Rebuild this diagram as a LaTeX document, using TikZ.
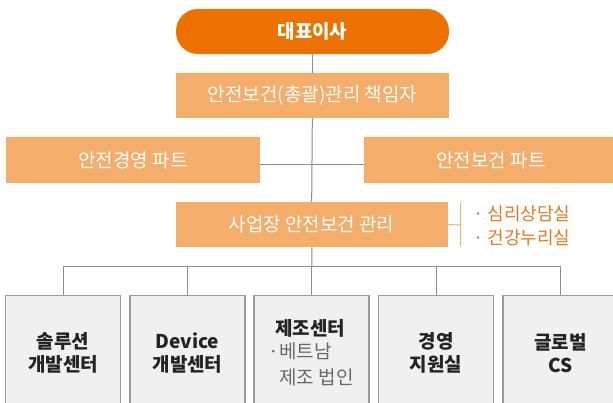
\documentclass[tikz,border=0pt]{standalone}
\usepackage{fontspec}
\setmainfont{Noto Sans CJK KR}
\usepackage{tikz}
\usetikzlibrary{calc}
\definecolor{Orange}{RGB}{237,113,0}
\definecolor{Peach}{RGB}{245,173,107}
\definecolor{SideOrange}{RGB}{234,118,28}
\definecolor{LineGray}{RGB}{140,140,140}
\definecolor{BoxGray}{RGB}{240,240,240}
\definecolor{EdgeGray}{RGB}{155,155,155}
\definecolor{SubGray}{RGB}{105,105,105}
\definecolor{Dark}{RGB}{35,35,35}

\begin{document}
\begin{tikzpicture}[x=1pt,y=-1pt,
          head/.style={fill=Orange,rounded corners=22pt,minimum width=273pt,minimum height=45pt,
            text=white,font=\fontsize{19}{22}\selectfont\bfseries},
          part/.style={fill=Peach,minimum height=45pt,text=white,font=\fontsize{19}{22}\selectfont},
          unit/.style={fill=BoxGray,draw=EdgeGray,line width=1.2pt,minimum width=115pt,minimum height=115pt,
            anchor=north,text=Dark,align=center,font=\fontsize{19}{23}\selectfont\bfseries},
          link/.style={LineGray,line width=1pt}]
          \useasboundingbox (0,0) rectangle (613,402);
          \clip (0,0) rectangle (613,402);
          \node[head] (ceo) at (312.5,31.5) {대표이사};
          \node[part,minimum width=273pt] (cso) at (312.5,95.5) {안전보건(총괄)관리 책임자};
          \node[part,minimum width=254pt,minimum height=46pt] (mgmt) at (133,160) {안전경영 파트};
          \node[part,minimum width=254pt,minimum height=46pt] (health) at (491,160) {안전보건 파트};
          \node[part,minimum width=272pt] (site) at (311.5,224.5) {사업장 안전보건 관리};
          \coordinate (hub) at (312,266);
          \draw[link] (ceo) -- (cso);\draw[link] (cso) -- (site);\draw[link] (site) -- (hub);
          \draw[link] ($(mgmt.east)+(0,4)$) -- ($(health.west)+(0,4)$);
          % side list of the site office
          \coordinate (bar) at (460,225);
          \draw[Peach,line width=1pt] (site.east) -- (bar);
          \draw[Peach,line width=1pt] ($(bar)+(0,-23)$) -- ($(bar)+(0,22)$);
          \node[anchor=west,align=left,text=SideOrange,font=\fontsize{18}{24}\selectfont] (care) at (470,225.5)
            {·\ 심리상담실\\·\ 건강누리실};
          % centres
          \node[unit] (sol) at (63,295) {솔루션\\개발센터};
          \node[unit] (dev) at (187.5,295) {Device\\개발센터};
          \node[unit,align=left] (fab) at (311.5,295)
            {\hspace*{6pt}제조센터\\{\mdseries\color{SubGray}\hspace*{10pt}\llap{·}베트남}\\[3pt]
             {\mdseries\color{SubGray}\hspace*{10pt}제조 법인}};
          \node[unit] (ops) at (436,295) {경영\\지원실};
          \node[unit] (cs) at (560.5,295) {글로벌\\CS};
          \draw[link] (sol.north |- hub) -- (cs.north |- hub);
          \foreach \u in {sol,dev,fab,ops,cs}
            \draw[link] (\u.north |- hub) -- (\u.north);
          \end{tikzpicture}
\end{document}
